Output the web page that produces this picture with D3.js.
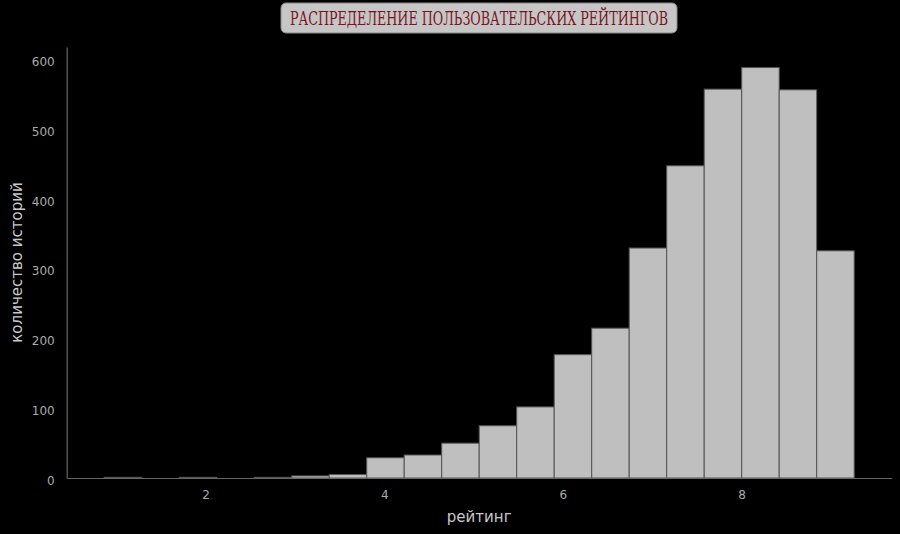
<!DOCTYPE html>
<html>
<head>
<meta charset="utf-8">
<script src="https://cdn.jsdelivr.net/npm/d3@7"></script>
<style>
  body { margin: 0; background: #000; }
  svg { display: block; }
</style>
</head>
<body>
<svg id="chart" width="900" height="534"></svg>
<script>
// histogram: 20 bins between min and max rating
var binMin = 0.866,
    binMax = 9.26;
var counts = [1, 0, 1, 0, 1, 3, 5, 29, 33, 50, 75, 102, 177, 215, 330, 448, 558, 589, 557, 326];
var xTicks = [2, 4, 6, 8];
var yTicks = [0, 100, 200, 300, 400, 500, 600];

var titleText = "РАСПРЕДЕЛЕНИЕ ПОЛЬЗОВАТЕЛЬСКИХ РЕЙТИНГОВ";
var xLabel = "рейтинг";
var yLabel = "количество историй";

var width = 900,
    height = 534,
    margins = {top: 47, right: 8.3, bottom: 56, left: 66.7};

var svg = d3.select("#chart");

svg.append("rect")
    .attr("width", width)
    .attr("height", height)
    .attr("fill", "#000");

var step = (binMax - binMin) / counts.length;
var bins = counts.map(function(c, i) {
    return {x0: binMin + i * step, x1: binMin + (i + 1) * step, count: c};
});

// matplotlib style 5% padding on x
var pad = (binMax - binMin) * 0.05;
var x = d3.scaleLinear()
    .domain([binMin - pad, binMax + pad])
    .range([margins.left, width - margins.right]);

var y = d3.scaleLinear()
    .domain([0, d3.max(counts) * 1.05])
    .range([height - margins.bottom, margins.top]);

// bars
svg.append("g")
    .selectAll("rect")
    .data(bins)
    .enter()
    .append("rect")
    .attr("x", function(d) { return x(d.x0); })
    .attr("width", function(d) { return x(d.x1) - x(d.x0); })
    .attr("y", function(d) { return y(d.count); })
    .attr("height", function(d) { return y(0) - y(d.count); })
    .attr("fill", "#bfbfbf")
    .attr("stroke", "#555")
    .attr("stroke-width", 1);

// x axis
var xAxis = svg.append("g")
    .attr("transform", "translate(0," + y(0) + ")")
    .call(d3.axisBottom(x).tickValues(xTicks).tickSize(0).tickPadding(12));

// y axis
var yAxis = svg.append("g")
    .attr("transform", "translate(" + margins.left + ",0)")
    .call(d3.axisLeft(y).tickValues(yTicks).tickSize(0).tickPadding(12));

[xAxis, yAxis].forEach(function(ax) {
    ax.select(".domain").attr("stroke", "#666").attr("stroke-width", 1.2);
    ax.selectAll("text")
        .attr("fill", "#aaa")
        .style("font-family", "DejaVu Sans")
        .style("font-size", "12px");
});
yAxis.selectAll("text").attr("dy", "0.5em");

// axis labels
svg.append("text")
    .attr("x", (x.range()[0] + x.range()[1]) / 2)
    .attr("y", 522)
    .attr("text-anchor", "middle")
    .attr("fill", "#c8c8c8")
    .style("font-family", "DejaVu Sans")
    .style("font-size", "15px")
    .text(xLabel);

svg.append("text")
    .attr("transform", "translate(22," + ((y.range()[0] + y.range()[1]) / 2) + ") rotate(-90)")
    .attr("text-anchor", "middle")
    .attr("fill", "#c8c8c8")
    .style("font-family", "DejaVu Sans")
    .style("font-size", "15px")
    .text(yLabel);

// title in a rounded box
svg.append("rect")
    .attr("x", 281)
    .attr("y", 3)
    .attr("width", 396)
    .attr("height", 30)
    .attr("rx", 5)
    .attr("fill", "#c6c6c6")
    .attr("stroke", "#888")
    .attr("stroke-width", 1);

svg.append("text")
    .attr("x", 479)
    .attr("y", 25)
    .attr("text-anchor", "middle")
    .attr("textLength", 378)
    .attr("lengthAdjust", "spacingAndGlyphs")
    .attr("fill", "#7a1422")
    .style("font-family", "DejaVu Serif")
    .style("font-size", "19px")
    .text(titleText);
</script>
</body>
</html>
